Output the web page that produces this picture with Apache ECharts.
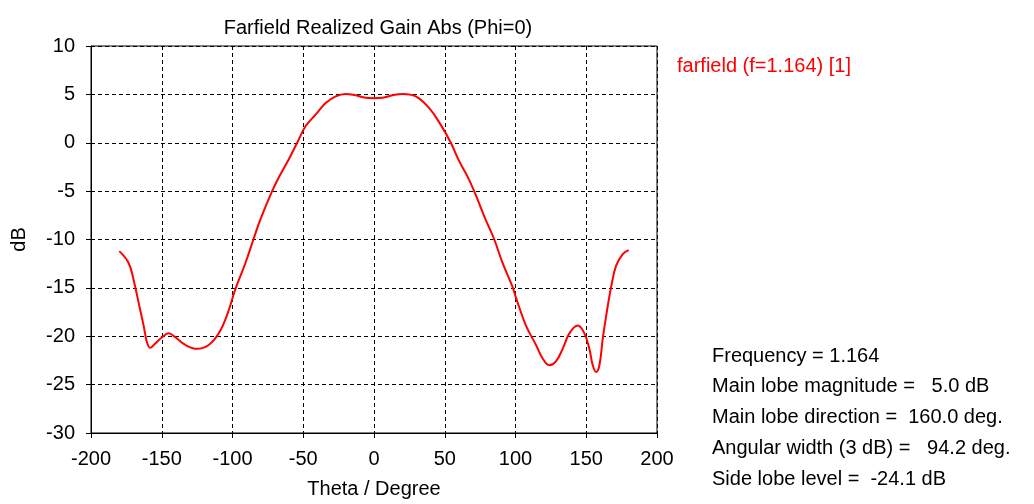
<!DOCTYPE html>
<html>
<head>
<meta charset="utf-8">
<script src="https://cdn.jsdelivr.net/npm/echarts@6/dist/echarts.min.js"></script>
<style>
  html, body { margin: 0; padding: 0; background: #fff; }
  #chart { width: 1034px; height: 504px; }
</style>
</head>
<body>
<div id="chart"></div>
<script>
// Farfield cut, Phi = 0: theta (deg) vs realized gain (dB)
const theta = [-180, -173.5, -170, -166.4, -162.8, -160.5, -158.1, -154.6, -149.8, -145.1, -140.4, -133.3, -125.1, -116.8, -109.7, -103.8, -97.9, -90.8, -85, -80.2, -72, -67.3, -60.2, -54.3, -48.4, -41.3, -34.2, -27.1, -20, -13, -6, 0, 6, 13, 20, 29.5, 38.9, 47.2, 54.3, 60.2, 66.1, 70.8, 77.9, 85, 90.8, 97.9, 100.3, 107.4, 114.5, 119.2, 123.9, 128.6, 133.3, 138.1, 144, 148.7, 152.2, 154.6, 157, 159.3, 161.7, 164.5, 167.6, 171.1, 175.8, 180];
const gain = [-11.2, -12.4, -14.1, -16.5, -18.9, -20.6, -21.2, -20.75, -20.1, -19.7, -20.1, -20.9, -21.3, -20.9, -19.7, -17.8, -15.1, -12.4, -9.9, -7.9, -5.0, -3.6, -1.7, 0, 1.7, 2.9, 4.1, 4.8, 5.05, 4.9, 4.65, 4.6, 4.65, 4.9, 5.05, 4.8, 3.6, 1.85, 0, -1.9, -3.5, -5.0, -7.6, -10.0, -12.4, -14.9, -16.0, -18.9, -20.9, -22.3, -23.0, -22.6, -21.3, -19.7, -18.9, -19.7, -21.3, -23.0, -23.7, -23.0, -20.2, -17.5, -14.9, -12.7, -11.5, -11.1];

const xTicks = { min: -200, max: 200, step: 50 };
const yTicks = { min: -30, max: 10, step: 5 };

const chartTitle = 'Farfield Realized Gain Abs (Phi=0)';
const xName = 'Theta / Degree';
const yName = 'dB';
const seriesName = 'farfield (f=1.164) [1]';
const infoLines = [
  'Frequency = 1.164',
  'Main lobe magnitude =   5.0 dB',
  'Main lobe direction =  160.0 deg.',
  'Angular width (3 dB) =   94.2 deg.',
  'Side lobe level =  -24.1 dB'
];

const FONT = 'Liberation Sans';
const FS = 20;
const chart = echarts.init(document.getElementById('chart'));

const graphics = [
  { type: 'text', x: 677, y: 66, style: { text: seriesName, fill: '#ff0000', font: FS + 'px ' + FONT, verticalAlign: 'middle' } }
];
infoLines.forEach((t, i) => {
  graphics.push({ type: 'text', x: 712, y: 356 + i * 30.8, style: { text: t, fill: '#000', font: FS + 'px ' + FONT, verticalAlign: 'middle' } });
});

const dashed = { show: true, lineStyle: { color: '#000', type: [4, 3], width: 1 } };
const axisFont = { fontFamily: FONT, fontSize: FS, color: '#000' };

chart.setOption({
  animation: false,
  title: {
    text: chartTitle, left: 373, top: 13, textAlign: 'center',
    textStyle: { fontFamily: FONT, fontSize: FS, fontWeight: 'normal', color: '#000' }
  },
  graphic: graphics,
  grid: { left: 91, top: 46, right: 377, bottom: 69, show: true, borderColor: '#000', borderWidth: 1, backgroundColor: 'transparent' },
  xAxis: {
    type: 'value', min: xTicks.min, max: xTicks.max, interval: xTicks.step,
    name: xName, nameLocation: 'middle', nameGap: 46,
    nameTextStyle: axisFont,
    axisLine: { show: true, onZero: false, lineStyle: { color: '#000' } },
    axisTick: { show: true, length: 5, lineStyle: { color: '#000' } },
    axisLabel: Object.assign({ margin: 16 }, axisFont),
    splitLine: dashed
  },
  yAxis: {
    type: 'value', min: yTicks.min, max: yTicks.max, interval: yTicks.step,
    name: yName, nameLocation: 'middle', nameGap: 62, nameRotate: 90,
    nameTextStyle: axisFont,
    axisLine: { show: true, onZero: false, lineStyle: { color: '#000' } },
    axisTick: { show: true, length: 5, lineStyle: { color: '#000' } },
    axisLabel: Object.assign({ margin: 16 }, axisFont),
    splitLine: dashed
  },
  series: [{
    type: 'line', name: seriesName,
    data: theta.map((t, i) => [t, gain[i]]),
    smooth: 0.4, showSymbol: false,
    lineStyle: { color: '#ff0000', width: 2 }
  }]
});
</script>
</body>
</html>
